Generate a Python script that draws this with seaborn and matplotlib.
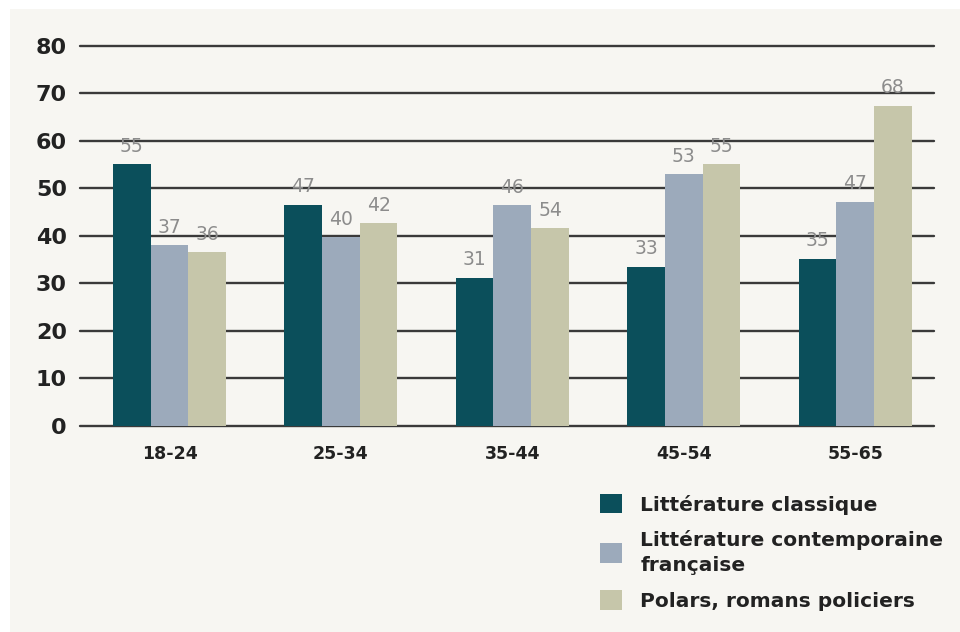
"""
Lecture par tranche d'age : bar chart grouped by age band, three genres.
"""

import matplotlib
matplotlib.use("Agg")
import matplotlib.pyplot as plt
from matplotlib.patches import Rectangle
import pandas as pd
import seaborn as sns

# Data
age_groups = ["18-24", "25-34", "35-44", "45-54", "55-65"]
genres = [
    "Littérature classique",
    "Littérature contemporaine\nfrançaise",
    "Polars, romans policiers",
]
# bar heights as drawn
classique = [55, 46.5, 31.2, 33.5, 35.2]
contemporaine = [38, 39.7, 46.4, 53, 47.2]
polars = [36.5, 42.7, 41.6, 55, 67.4]
# numbers printed above the bars
classique_labels = ["55", "47", "31", "33", "35"]
contemporaine_labels = ["37", "40", "46", "53", "47"]
polars_labels = ["36", "42", "54", "55", "68"]

colors = ["#0b4f5b", "#9caabb", "#c6c6aa"]
bg = "#f7f6f2"

df = pd.DataFrame({
    "age": age_groups * 3,
    "genre": [g for g in genres for _ in age_groups],
    "value": classique + contemporaine + polars,
})

sns.set_theme(style="white")
plt.rcParams["font.family"] = ["DejaVu Sans"]

fig = plt.figure(figsize=(9.6, 6.32), dpi=100)
fig.patch.set_facecolor("white")
# beige panel behind the chart
fig.patches.append(Rectangle((10 / 960, 0), 950 / 960, 1 - 9 / 632,
                             transform=fig.transFigure, facecolor=bg,
                             edgecolor="none", zorder=-10))

ax = fig.add_axes([80 / 960, 1 - 425.7 / 632, 854 / 960, 380 / 632])
ax.set_facecolor("none")

sns.barplot(data=df, x="age", y="value", hue="genre", order=age_groups,
            hue_order=genres, palette=colors, saturation=1, width=0.66,
            linewidth=0, legend=False, ax=ax, zorder=3)

for cont, labels in zip(ax.containers,
                        [classique_labels, contemporaine_labels, polars_labels]):
    ax.bar_label(cont, labels=labels, padding=6, fontsize=13.5,
                 color="#8c8c8c", zorder=4)

ax.set_ylim(0, 80)
ax.set_xlim(-0.522, 4.46)
ax.set_yticks(range(0, 81, 10))
for y in range(0, 81, 10):
    ax.axhline(y, color="#3a3a3a", linewidth=1.7, zorder=1, clip_on=False)

for s in ax.spines.values():
    s.set_visible(False)
ax.tick_params(axis="y", length=0, pad=9.5, labelsize=16, labelcolor="#222222")
ax.tick_params(axis="x", length=0, pad=14, labelsize=12.5, labelcolor="#222222")
for lab in ax.get_yticklabels() + ax.get_xticklabels():
    lab.set_fontweight("bold")
ax.set_xlabel("")
ax.set_ylabel("")

leg = fig.legend(ax.containers, genres, loc="upper left",
                 bbox_to_anchor=(600 / 960, 1 - 494 / 632), frameon=False,
                 prop={"weight": "bold", "size": 14.5},
                 handlelength=1.1, handleheight=1.1, handletextpad=0.9,
                 labelspacing=0.75, borderpad=0, borderaxespad=0)
for t in leg.get_texts():
    t.set_color("#222222")
    t.set_linespacing(1.45)

fig.savefig("out.png", dpi=100, facecolor=fig.get_facecolor())
